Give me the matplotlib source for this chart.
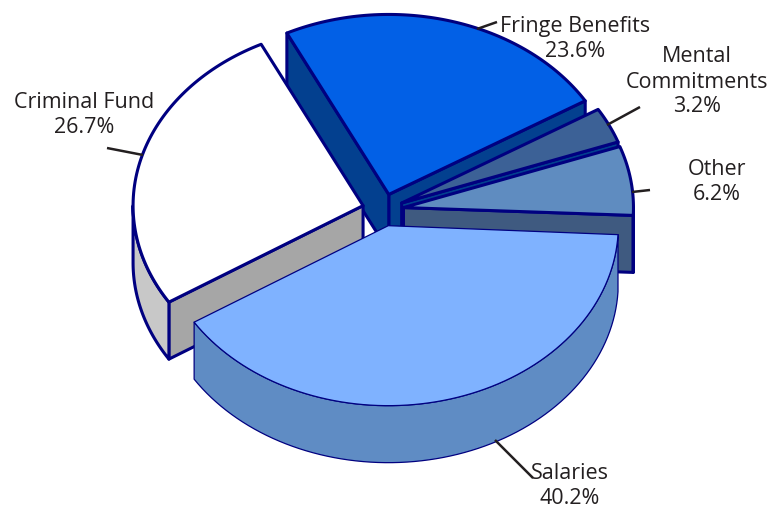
import numpy as np
import matplotlib
matplotlib.use("Agg")
import matplotlib.pyplot as plt
from matplotlib.patches import Polygon

# data, counter-clockwise from the right side of the pie
labels = ["Other", "Mental\nCommitments", "Fringe Benefits", "Criminal Fund", "Salaries"]
shares = [6.2, 3.2, 23.6, 26.7, 40.2]

# styles
top_colors = ["#5f8cc0", "#3c6196", "#0260e6", "#ffffff", "#7fb2ff"]
wall_colors = ["#3f5a80", "#03408f", "#03408f", "#a6a6a6", "#5f8cc4"]
rim_colors = ["#3f5a80", "#3c6196", "#03408f", "#c8c8c8", "#5f8cc4"]
edge_widths = [2.2, 2.2, 2.2, 2.2, 0.9]
draw_order = [2, 1, 0, 3, 4]
NAVY = "#000080"
INK = "#231f20"

# pie geometry in pixels
CX, CY = 383, 210
RX, RY = 230, 180
DEPTH = 57
EXPLODE = 0.09
START = -2.5

plt.rcParams["font.family"] = ["Open Sans", "DejaVu Sans"]
fig = plt.figure(figsize=(7.84, 5.08), dpi=100)
ax = fig.add_axes([0, 0, 1, 1])
ax.set_xlim(0, 784)
ax.set_ylim(508, 0)
ax.axis("off")


def arc(cx, cy, t1, t2):
    t = np.radians(np.linspace(t1, t2, 80))
    return np.column_stack([cx + RX * np.cos(t), cy - RY * np.sin(t)])


def draw_wedge(t1, t2, top, wall, rim, lw):
    mid = np.radians((t1 + t2) / 2)
    cx = CX + EXPLODE * RX * np.cos(mid)
    cy = CY - EXPLODE * RY * np.sin(mid)
    drop = np.array([0, DEPTH])
    apex = np.array([cx, cy])
    # side walls that face the viewer
    for t, normal in ((t1, t1 - 90), (t2, t2 + 90)):
        if np.sin(np.radians(normal)) < 0:
            p = arc(cx, cy, t, t)[0]
            ax.add_patch(Polygon([apex, p, p + drop, apex + drop], fc=wall, ec=NAVY, lw=lw, joinstyle="round"))
    # outer rim, front half only
    for k in (-360, 0):
        a, b = max(t1, 180 + k), min(t2, 360 + k)
        if a < b:
            pts = arc(cx, cy, a, b)
            ax.add_patch(Polygon(np.vstack([pts, (pts + drop)[::-1]]), fc=rim, ec=NAVY, lw=lw, joinstyle="round"))
    pts = arc(cx, cy, t1, t2)
    ax.add_patch(Polygon(np.vstack([apex, pts]), fc=top, ec=NAVY, lw=lw, joinstyle="round"))


edges = START + np.concatenate([[0], np.cumsum(shares)]) * 3.6
for i in draw_order:
    draw_wedge(edges[i], edges[i + 1], top_colors[i], wall_colors[i], rim_colors[i], edge_widths[i])

# leader lines and labels
leaders = [((650, 190), (632, 192)), ((640, 107), (607, 125)), ((497, 22), (477, 29)),
           ((107, 148), (143, 155)), ((533, 478), (495, 440))]
label_pos = [(717, 182), (697, 82), (575, 39), (84, 115), (570, 486)]
for i, name in enumerate(labels):
    (x0, y0), (x1, y1) = leaders[i]
    ax.plot([x0, x1], [y0, y1], color=INK, lw=1.8, solid_capstyle="butt")
    ax.text(label_pos[i][0], label_pos[i][1], f"{name}\n{shares[i]:.1f}%", ha="center", va="center",
            fontsize=15.5, color=INK, linespacing=1.25)

fig.savefig("out.png", dpi=100)
